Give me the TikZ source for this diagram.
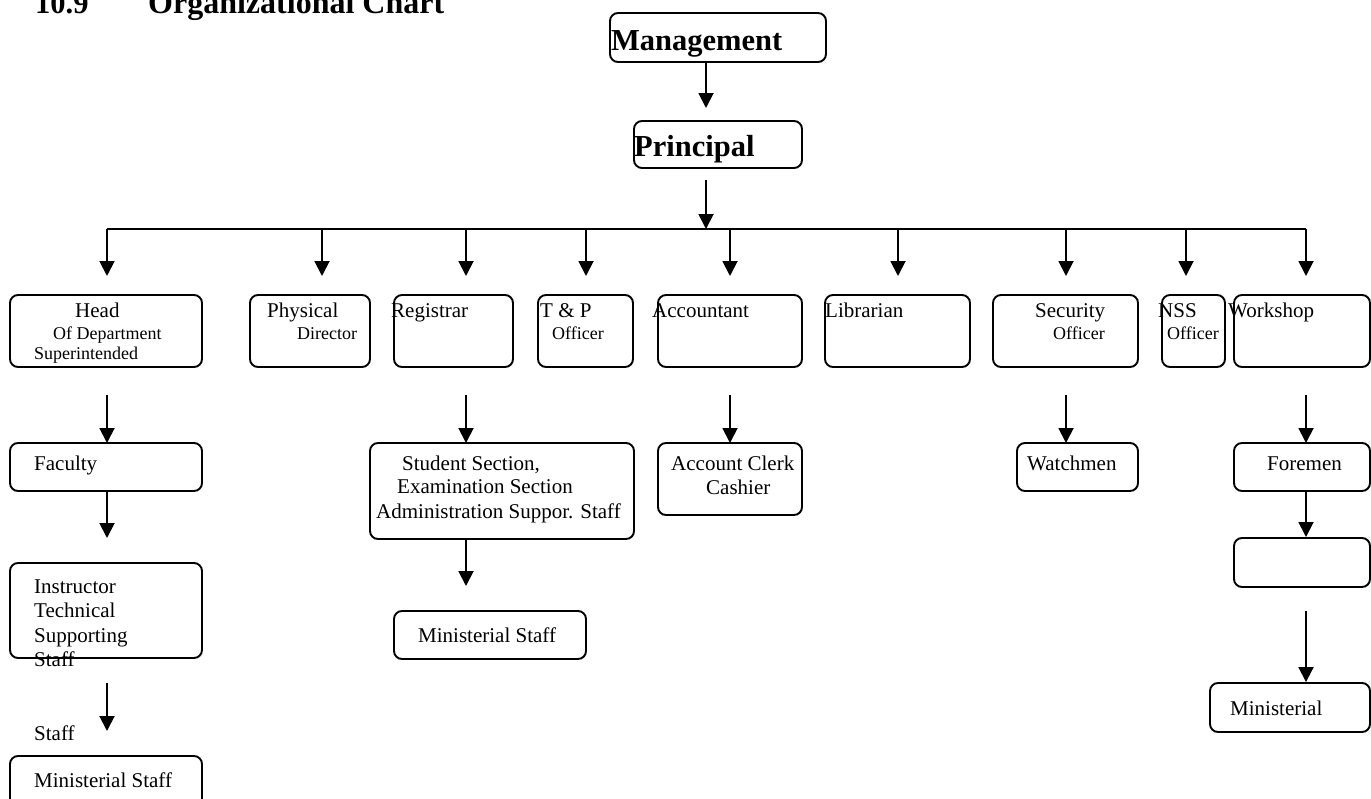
\documentclass[tikz,border=0pt]{standalone}
\usepackage{fontspec}
\setmainfont{Liberation Serif}
\usetikzlibrary{arrows.meta}
\begin{document}
\begin{tikzpicture}[x=1pt,y=-1pt,
  box/.style={draw, line width=1.9pt, rounded corners=8pt, inner sep=0pt},
  arr/.style={line width=1.9pt, -{Triangle[width=15pt,length=15pt]}},
  bus/.style={line width=1.9pt},
  txt/.style={anchor=base west, inner sep=0pt, font=\fontsize{21}{24}\selectfont},
  sm/.style={anchor=base west, inner sep=0pt, font=\fontsize{18}{20}\selectfont},
  bft/.style={anchor=base west, inner sep=0pt, font=\fontsize{30.5}{34}\selectfont\bfseries}]
\clip (0,0) rectangle (1371,798);
\fill[white] (0,0) rectangle (1371,798);
% title
\node[bft] (t1) at (35,13) {10.9};
\node[bft, font=\fontsize{32}{36}\selectfont\bfseries] (t2) at (148,13) {Organizational Chart};
% boxes
\node[box, minimum width=216pt, minimum height=49pt] (mgmt) at (718,37.5) {};
\node[box, minimum width=168pt, minimum height=47pt] (prin) at (718,144.5) {};
\node[box, minimum width=192pt, minimum height=72pt] (head) at (106,331) {};
\node[box, minimum width=120pt, minimum height=72pt] (phys) at (310,331) {};
\node[box, minimum width=119pt, minimum height=72pt] (reg) at (453.5,331) {};
\node[box, minimum width=95pt, minimum height=72pt] (tp) at (585.5,331) {};
\node[box, minimum width=144pt, minimum height=72pt] (acct) at (730,331) {};
\node[box, minimum width=145pt, minimum height=72pt] (lib) at (897.5,331) {};
\node[box, minimum width=145pt, minimum height=72pt] (sec) at (1065.5,331) {};
\node[box, minimum width=63pt, minimum height=72pt] (nss) at (1193.5,331) {};
\node[box, minimum width=136pt, minimum height=72pt] (work) at (1302,331) {};
\node[box, minimum width=192pt, minimum height=48pt] (fac) at (106,467) {};
\node[box, minimum width=264pt, minimum height=96pt] (stud) at (502,491) {};
\node[box, minimum width=144pt, minimum height=72pt] (clerk) at (730,479) {};
\node[box, minimum width=121pt, minimum height=48pt] (watch) at (1077.5,467) {};
\node[box, minimum width=136pt, minimum height=48pt] (fore) at (1302,467) {};
\node[box, minimum width=136pt, minimum height=49pt] (empty) at (1302,562.5) {};
\node[box, minimum width=192pt, minimum height=95pt] (instr) at (106,610.5) {};
\node[box, minimum width=192pt, minimum height=64pt] (minl) at (106,788) {};
\node[box, minimum width=192pt, minimum height=48pt] (minm) at (490,635) {};
\node[box, minimum width=160pt, minimum height=49pt] (minw) at (1290,707.5) {};
% connector coordinates
\coordinate (m0) at (706,62);   \coordinate (m1) at (706,108);
\coordinate (p0) at (706,180);  \coordinate (p1) at (706,229);
\coordinate (bl) at (107,229);  \coordinate (br) at (1306,229);
\draw[arr] (m0) -- (m1);
\draw[arr] (p0) -- (p1);
\draw[bus] (bl) -- (br);
\foreach \x in {107,322,466,586,730,898,1066,1186,1306}
  \draw[arr] (\x,229) -- (\x,276);
\foreach \x in {107,466,730,1066,1306}
  \draw[arr] (\x,395) -- (\x,443);
\draw[arr] (fac.south -| 107,0) -- (107,538);
\draw[arr] (stud.south -| 466,0) -- (466,586);
\draw[arr] (fore.south -| 1306,0) -- (1306,537);
\draw[arr] (1306,611) -- (minw.north -| 1306,0);
\draw[arr] (107,683) -- (107,731);
% texts
\node[bft] (tm) at (611,50) {Management};
\node[bft] (tpr) at (634,156) {Principal};
\node[txt] (h1) at (75,317) {Head};
\node[sm] (h2) at (53,339) {Of Department};
\node[sm] (h3) at (34,359) {Superintended};
\node[txt] (ph1) at (267,317) {Physical};
\node[sm] (ph2) at (297,339) {Director};
\node[txt] (rg) at (391,317) {Registrar};
\node[txt] (tp1) at (540,317) {T \& P};
\node[sm] (tp2) at (552,339) {Officer};
\node[txt] (ac) at (652,317) {Accountant};
\node[txt] (lb) at (825,317) {Librarian};
\node[txt] (sc1) at (1035,317) {Security};
\node[sm] (sc2) at (1053,339) {Officer};
\node[txt] (ns1) at (1158,317) {NSS};
\node[sm] (ns2) at (1167,339) {Officer};
\node[txt] (wk) at (1228,317) {Workshop};
\node[txt] (fc) at (34,470) {Faculty};
\node[txt] (st1) at (402,470) {Student Section,};
\node[txt] (st2) at (397,493) {Examination Section};
\node[txt] (st3) at (376,518) {Administration Suppor. Staff};
\node[txt] (cl1) at (671,470) {Account Clerk};
\node[txt] (cl2) at (706,494) {Cashier};
\node[txt] (wt) at (1027,470) {Watchmen};
\node[txt] (fm) at (1267,470) {Foremen};
\node[txt] (mw) at (1230,715) {Ministerial};
\node[txt] (in1) at (34,593) {Instructor};
\node[txt] (in2) at (34,617) {Technical};
\node[txt] (in3) at (34,642) {Supporting};
\node[txt] (in4) at (34,666) {Staff};
\node[txt] (sf) at (34,740) {Staff};
\node[txt] (ml) at (34,787) {Ministerial Staff};
\node[txt] (mm) at (418,642) {Ministerial Staff};
\end{tikzpicture}
\end{document}
